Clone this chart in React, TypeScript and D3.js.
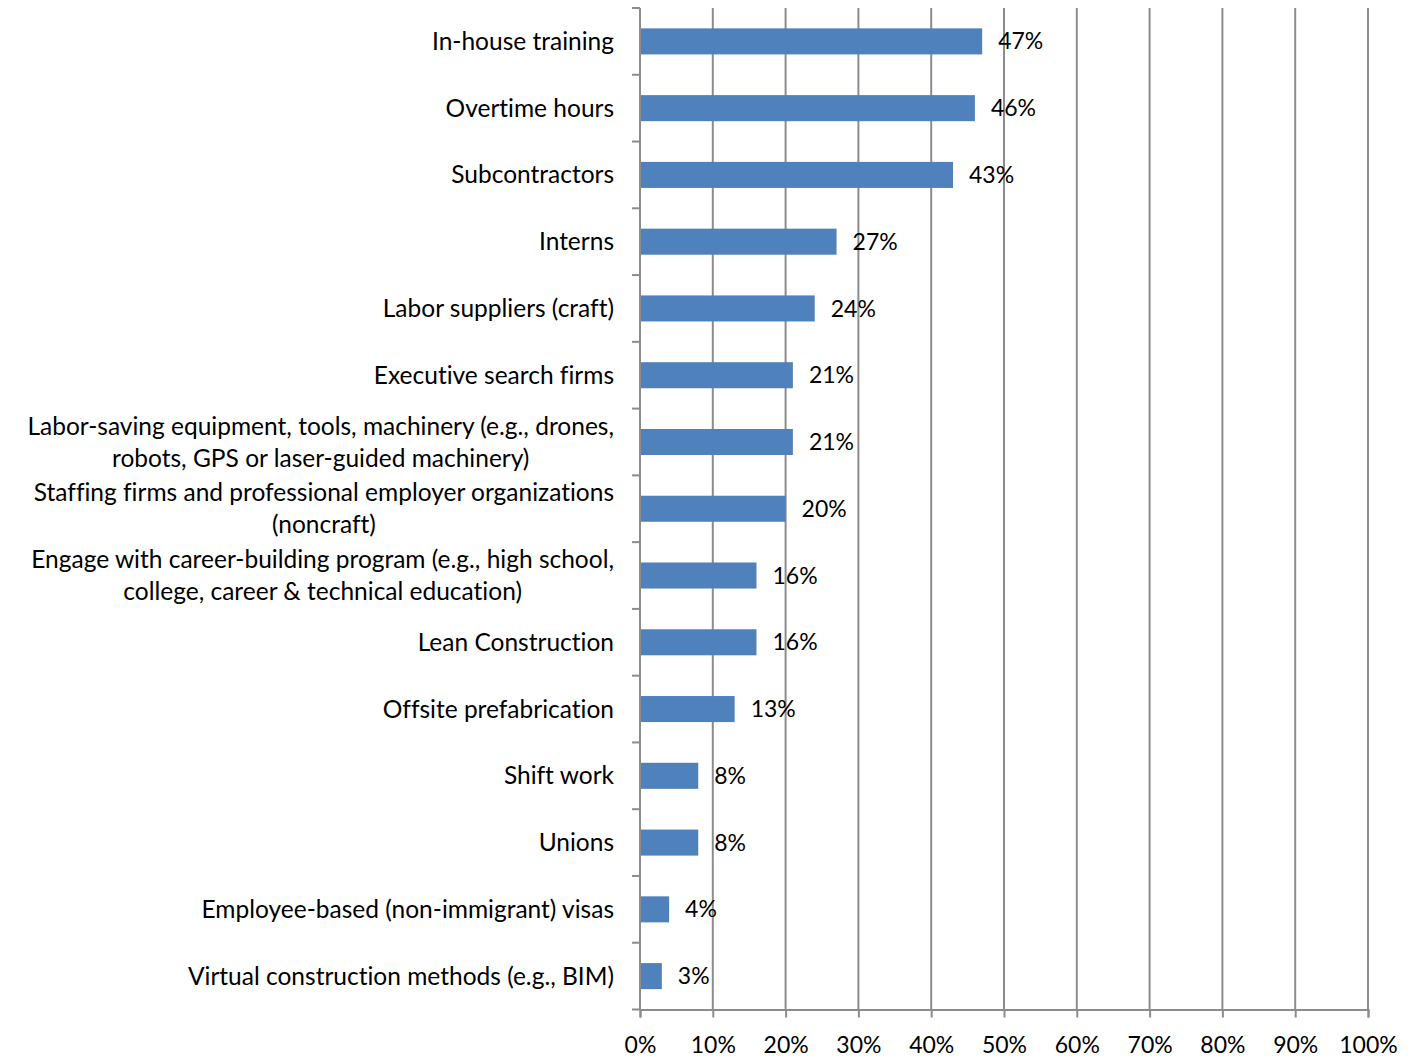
import React, { useEffect, useRef } from "react";
import * as d3 from "d3";

const categories = [
  ["In-house training"],
  ["Overtime hours"],
  ["Subcontractors"],
  ["Interns"],
  ["Labor suppliers (craft)"],
  ["Executive search firms"],
  ["Labor-saving equipment, tools, machinery (e.g., drones,", "robots, GPS or laser-guided machinery)"],
  ["Staffing firms and professional employer organizations", "(noncraft)"],
  ["Engage with career-building program (e.g., high school,", "college, career & technical education)"],
  ["Lean Construction"],
  ["Offsite prefabrication"],
  ["Shift work"],
  ["Unions"],
  ["Employee-based (non-immigrant) visas"],
  ["Virtual construction methods (e.g., BIM)"],
];
const values = [47, 46, 43, 27, 24, 21, 21, 20, 16, 16, 13, 8, 8, 4, 3];
const xTicks = [0, 10, 20, 30, 40, 50, 60, 70, 80, 90, 100];

const W = 1413;
const H = 1059;
const margin = { top: 8, right: 45, bottom: 49.5, left: 640 };
const FONT = "Lato, 'Open Sans', sans-serif";
const LABEL_SIZE = 24.5;
const NUM_SIZE = 23;

const App = () => {
  const ref = useRef<SVGSVGElement>(null);

  useEffect(() => {
    const svg = d3.select(ref.current);
    svg.selectAll("*").remove();

    const width = W - margin.left - margin.right;
    const height = H - margin.top - margin.bottom;
    const x = d3.scaleLinear().domain([0, 100]).range([0, width]);
    const y = d3
      .scaleBand<number>()
      .domain(d3.range(categories.length))
      .range([0, height])
      .paddingInner(0.61)
      .paddingOuter(0.305);

    const g = svg.append("g").attr("transform", `translate(${margin.left},${margin.top})`);
    const grey = "#8c8c8c";

    // vertical gridlines
    g.selectAll("line.grid")
      .data(xTicks.slice(1))
      .enter()
      .append("line")
      .attr("x1", (d) => x(d))
      .attr("x2", (d) => x(d))
      .attr("y1", 0)
      .attr("y2", height)
      .attr("stroke", grey)
      .attr("stroke-width", 2);

    // bottom axis
    const xAxis = g
      .append("g")
      .attr("transform", `translate(0,${height})`)
      .call(
        d3
          .axisBottom(x)
          .tickValues(xTicks)
          .tickSize(8)
          .tickFormat((d) => `${d}%`)
      );
    xAxis.select(".domain").attr("stroke", grey).attr("stroke-width", 2);
    xAxis.selectAll(".tick line").attr("stroke", grey).attr("stroke-width", 2);
    xAxis
      .selectAll(".tick text")
      .attr("fill", "#000")
      .attr("font-family", FONT)
      .attr("font-size", NUM_SIZE)
      .attr("y", 0)
      .attr("dy", 0)
      .attr("transform", "translate(0,43)");

    // left axis with ticks between categories
    const step = height / categories.length;
    g.append("line")
      .attr("x1", 0)
      .attr("x2", 0)
      .attr("y1", 0)
      .attr("y2", height)
      .attr("stroke", grey)
      .attr("stroke-width", 2);
    g.selectAll("line.ytick")
      .data(d3.range(categories.length + 1))
      .enter()
      .append("line")
      .attr("x1", -8)
      .attr("x2", 0)
      .attr("y1", (i) => i * step)
      .attr("y2", (i) => i * step)
      .attr("stroke", grey)
      .attr("stroke-width", 2);

    // bars
    g.selectAll("rect.bar")
      .data(values)
      .enter()
      .append("rect")
      .attr("x", 1)
      .attr("y", (_, i) => y(i)!)
      .attr("width", (d) => x(d) - 1)
      .attr("height", y.bandwidth())
      .attr("fill", "#4F81BD");

    // value labels
    g.selectAll("text.val")
      .data(values)
      .enter()
      .append("text")
      .attr("x", (d) => x(d) + 16)
      .attr("y", (_, i) => y(i)! + y.bandwidth() / 2)
      .attr("dy", "0.35em")
      .attr("font-family", FONT)
      .attr("font-size", NUM_SIZE)
      .attr("fill", "#000")
      .text((d) => `${d}%`);

    // category labels
    const labels = g
      .selectAll("text.cat")
      .data(categories)
      .enter()
      .append("text")
      .attr("font-family", FONT)
      .attr("font-size", LABEL_SIZE)
      .style("font-variant-ligatures", "none")
      .style("font-feature-settings", '"liga" 0, "clig" 0, "dlig" 0')
      .attr("fill", "#000");

    labels.each(function (lines, i) {
      const t = d3.select(this);
      const cy = y(i)! + y.bandwidth() / 2;
      const lh = 32;
      const multi = lines.length > 1;
      t.attr("text-anchor", multi ? "middle" : "end");
      lines.forEach((line, j) => {
        t.append("tspan")
          .attr("x", multi ? -326 : -26)
          .attr("y", cy + (j - (lines.length - 1) / 2) * lh)
          .attr("dy", "0.35em")
          .text(line);
      });
    });

    // center multi-line labels on their widest line, right edge at -26
    labels.each(function (lines) {
      if (lines.length < 2) return;
      const t = d3.select(this);
      const bb = (this as SVGTextElement).getBBox();
      const cx = -26 - bb.width / 2;
      t.selectAll("tspan").attr("x", cx);
    });
  }, []);

  return (
    <svg
      ref={ref}
      width={W}
      height={H}
      style={{ position: "absolute", left: 0, top: 0, display: "block" }}
    />
  );
};

export default App;
